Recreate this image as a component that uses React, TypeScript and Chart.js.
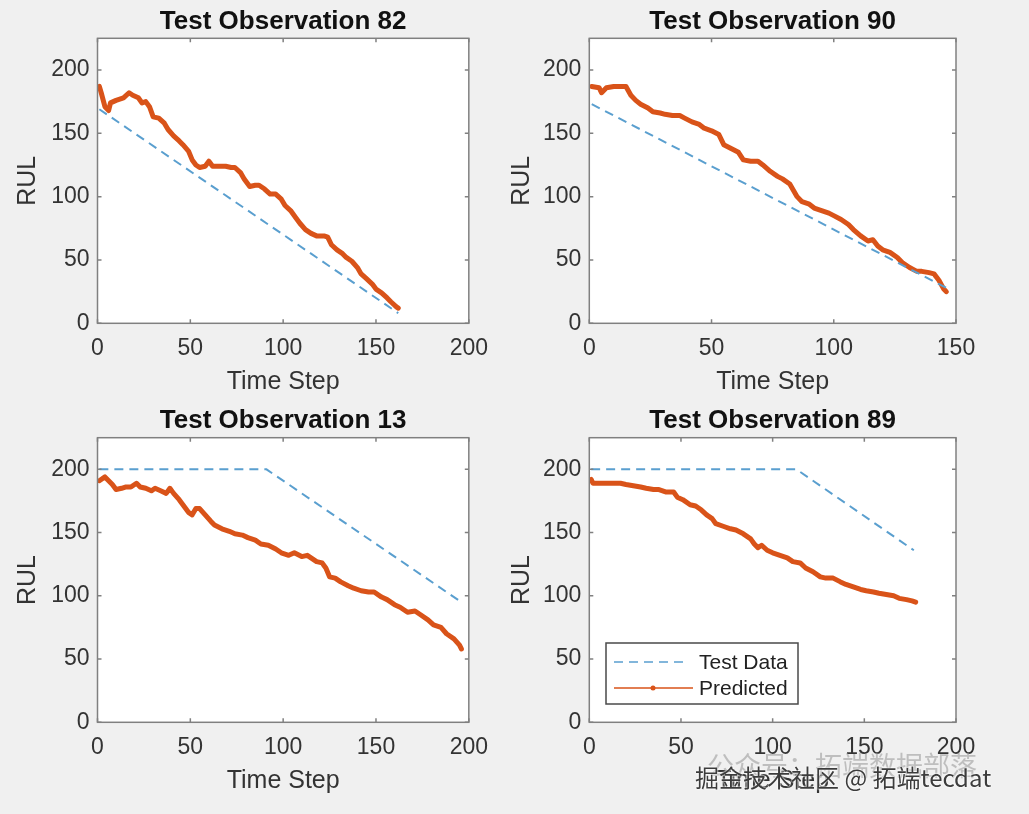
import React, { useEffect, useRef } from "react";
import { Chart, registerables } from "chart.js";

Chart.register(...registerables);

// ---------- data ----------
const Y_TICKS = [0, 50, 100, 150, 200];
const X_TICKS_200 = [0, 50, 100, 150, 200];
const X_TICKS_150 = [0, 50, 100, 150];
const Y_MAX = 225;

const TITLES = ["Test Observation 82", "Test Observation 90", "Test Observation 13", "Test Observation 89"];
const X_MAXES = [200, 150, 200, 200];
const SERIES_LABELS = ["Test Data", "Predicted"];

const OBS82_TEST: [number, number][] = [[1, 169], [162, 8]];
const OBS82_PREDICTED: [number, number][] = [
  [1, 187], [2, 182], [4, 171], [6, 168], [7, 174], [10, 176], [14, 178], [17, 182], [19, 180], [22, 178],
  [24, 174], [26, 175], [28, 171], [30, 163], [33, 162], [36, 158], [38, 153], [41, 148], [44, 144], [46, 141],
  [49, 136], [51, 129], [53, 125], [55, 123], [58, 124], [60, 128], [62, 124], [65, 124], [69, 124], [72, 123],
  [74, 123], [77, 119], [79, 114], [82, 108], [85, 109], [87, 109], [90, 106], [93, 102], [96, 102], [99, 98],
  [101, 93], [104, 89], [107, 83], [109, 79], [112, 74], [115, 71], [118, 69], [122, 69], [124, 68], [126, 62],
  [129, 58], [132, 55], [134, 52], [137, 49], [140, 44], [142, 39], [145, 35], [148, 31], [150, 27], [153, 24],
  [156, 20], [158, 17], [161, 13], [162, 12],
];

const OBS90_TEST: [number, number][] = [[1, 173], [146, 28]];
const OBS90_PREDICTED: [number, number][] = [
  [1, 187], [4, 186], [5, 182], [7, 186], [10, 187], [12, 187], [15, 187], [17, 180], [19, 176], [21, 173],
  [24, 170], [26, 167], [29, 166], [31, 165], [34, 164], [37, 164], [39, 162], [42, 159], [45, 157], [47, 154],
  [50, 152], [53, 149], [55, 141], [58, 138], [61, 135], [63, 129], [66, 128], [69, 128], [71, 125], [74, 120],
  [77, 116], [79, 114], [82, 110], [85, 100], [87, 96], [90, 94], [92, 91], [95, 89], [98, 87], [100, 85],
  [103, 82], [106, 78], [108, 74], [111, 69], [114, 65], [116, 66], [118, 61], [120, 58], [123, 56], [126, 52],
  [128, 48], [131, 44], [134, 41], [136, 41], [139, 40], [141, 39], [143, 34], [145, 27], [146, 25],
];

const OBS13_TEST: [number, number][] = [[1, 200], [91, 200], [196, 95]];
const OBS13_PREDICTED: [number, number][] = [
  [1, 191], [4, 194], [6, 191], [8, 188], [10, 184], [13, 185], [15, 186], [18, 186], [21, 189], [23, 186],
  [26, 185], [29, 183], [31, 185], [34, 183], [37, 181], [39, 185], [41, 181], [44, 176], [46, 172], [49, 166],
  [51, 164], [53, 169], [55, 169], [58, 164], [61, 159], [63, 156], [67, 153], [71, 151], [74, 149], [78, 148],
  [81, 146], [85, 144], [88, 141], [92, 140], [96, 137], [99, 134], [103, 132], [106, 134], [110, 131], [113, 132],
  [115, 130], [118, 127], [121, 126], [123, 122], [125, 115], [128, 114], [131, 111], [135, 108], [138, 106], [142, 104],
  [146, 103], [149, 103], [153, 99], [156, 97], [160, 93], [163, 91], [167, 87], [171, 88], [174, 85], [178, 81],
  [181, 77], [185, 75], [188, 70], [192, 66], [195, 61], [196, 58],
];

const OBS89_TEST: [number, number][] = [[1, 200], [113, 200], [177, 136]];
const OBS89_PREDICTED: [number, number][] = [
  [1, 192], [2, 189], [6, 189], [9, 189], [13, 189], [17, 189], [20, 188], [24, 187], [28, 186], [31, 185],
  [35, 184], [38, 184], [42, 182], [46, 182], [48, 178], [51, 176], [55, 172], [58, 171], [61, 168], [64, 164],
  [67, 161], [69, 157], [73, 155], [77, 153], [80, 152], [84, 149], [88, 145], [90, 141], [92, 138], [94, 140],
  [97, 136], [100, 134], [104, 132], [108, 130], [111, 127], [115, 126], [118, 122], [122, 119], [126, 115], [129, 114],
  [133, 114], [137, 111], [140, 109], [144, 107], [148, 105], [151, 104], [155, 103], [158, 102], [162, 101], [166, 100],
  [169, 98], [173, 97], [176, 96], [178, 95],
];

const TESTS = [OBS82_TEST, OBS90_TEST, OBS13_TEST, OBS89_TEST];
const PREDS = [OBS82_PREDICTED, OBS90_PREDICTED, OBS13_PREDICTED, OBS89_PREDICTED];
const X_TICK_SETS = [X_TICKS_200, X_TICKS_150, X_TICKS_200, X_TICKS_200];

// ---------- styling / layout ----------
const FONT = "'Liberation Sans', Arial, Helvetica, sans-serif";
const ORANGE = "#D95319";
const BLUE = "#5a9fcf";
const AXIS_COLOR = "#808080";
const TEXT_COLOR = "#333333";

type Geo = {
  cx: number; cy: number; w: number; h: number;
  plotLeft: number; plotRight: number; plotBottom: number;
  titleTop: number; titleBottom: number; xTitlePad: number; yTitlePad: number;
  legend?: { x: number; y: number; w: number; h: number };
};

const GEOS: Geo[] = [
  { cx: 0, cy: 0, w: 500, h: 400, plotLeft: 97.5, plotRight: 470, plotBottom: 323.3, titleTop: 6.5, titleBottom: 0.6, xTitlePad: 2.7, yTitlePad: 13.5 },
  { cx: 500, cy: 0, w: 529, h: 400, plotLeft: 589.3, plotRight: 956, plotBottom: 323.3, titleTop: 6.5, titleBottom: 0.6, xTitlePad: 2.7, yTitlePad: 7 },
  { cx: 0, cy: 400, w: 500, h: 414, plotLeft: 97.5, plotRight: 470, plotBottom: 722.3, titleTop: 5, titleBottom: 1.5, xTitlePad: 18.3, yTitlePad: 13.5 },
  { cx: 500, cy: 400, w: 529, h: 414, plotLeft: 589.3, plotRight: 956, plotBottom: 722.3, titleTop: 5, titleBottom: 1.5, xTitlePad: 18.3, yTitlePad: 7, legend: { x: 106, y: 243, w: 192, h: 61 } },
];

const boxPlugin = {
  id: "matlabBox",
  beforeDraw(chart: any) {
    const { ctx, chartArea: a } = chart;
    ctx.save();
    ctx.fillStyle = "#ffffff";
    ctx.fillRect(a.left, a.top, a.right - a.left, a.bottom - a.top);
    ctx.restore();
  },
  afterDraw(chart: any, _args: any, opts: any) {
    const { ctx, chartArea: a, scales } = chart;
    ctx.save();
    ctx.strokeStyle = AXIS_COLOR;
    ctx.lineWidth = 1.5;
    ctx.beginPath();
    const tl = 4;
    for (const t of scales.x.ticks) {
      const px = scales.x.getPixelForValue(t.value);
      ctx.moveTo(px, a.bottom); ctx.lineTo(px, a.bottom - tl);
      ctx.moveTo(px, a.top); ctx.lineTo(px, a.top + tl);
    }
    for (const t of scales.y.ticks) {
      const py = scales.y.getPixelForValue(t.value);
      ctx.moveTo(a.left, py); ctx.lineTo(a.left + tl, py);
      ctx.moveTo(a.right, py); ctx.lineTo(a.right - tl, py);
    }
    ctx.stroke();
    ctx.strokeRect(a.left, a.top, a.right - a.left, a.bottom - a.top);

    const lg = opts && opts.legend;
    if (lg) {
      ctx.fillStyle = "#ffffff";
      ctx.fillRect(lg.x, lg.y, lg.w, lg.h);
      ctx.strokeStyle = "#4a4a4a";
      ctx.lineWidth = 1.5;
      ctx.strokeRect(lg.x, lg.y, lg.w, lg.h);
      const rows = [lg.y + 19, lg.y + 45];
      chart.data.datasets.forEach((ds: any, i: number) => {
        const y = rows[i];
        ctx.save();
        ctx.strokeStyle = ds.borderColor;
        ctx.lineWidth = 1.5;
        ctx.setLineDash(ds.borderDash || []);
        ctx.beginPath();
        ctx.moveTo(lg.x + 8, y);
        ctx.lineTo(lg.x + (i === 0 ? 83 : 87), y);
        ctx.stroke();
        ctx.setLineDash([]);
        if (i === 1) {
          ctx.fillStyle = ds.borderColor;
          ctx.beginPath();
          ctx.arc(lg.x + 47, y, 2.5, 0, Math.PI * 2);
          ctx.fill();
        }
        ctx.fillStyle = "#222222";
        ctx.font = `21px ${FONT}`;
        ctx.textAlign = "left";
        ctx.textBaseline = "middle";
        ctx.fillText(ds.label, lg.x + 93, y + 1);
        ctx.restore();
      });
    }
    ctx.restore();
  },
};

function Panel({ idx }: { idx: number }) {
  const ref = useRef<HTMLCanvasElement | null>(null);
  const g = GEOS[idx];
  useEffect(() => {
    if (!ref.current) return;
    const xTicks = X_TICK_SETS[idx];
    const chart = new Chart(ref.current, {
      type: "line",
      data: {
        datasets: [
          {
            label: SERIES_LABELS[0],
            data: TESTS[idx].map(([x, y]) => ({ x, y })),
            borderColor: BLUE,
            borderWidth: 2,
            borderDash: [9, 6],
            pointRadius: 0,
            fill: false,
            tension: 0,
          },
          {
            label: SERIES_LABELS[1],
            data: PREDS[idx].map(([x, y]) => ({ x, y })),
            borderColor: ORANGE,
            borderWidth: 5,
            pointRadius: 0,
            fill: false,
            tension: 0,
            borderJoinStyle: "round",
            borderCapStyle: "round",
          },
        ],
      },
      options: {
        animation: false,
        responsive: false,
        maintainAspectRatio: false,
        events: [],
        layout: { padding: { left: 0, top: 0, bottom: 0, right: g.cx + g.w - g.plotRight } },
        plugins: {
          legend: { display: false },
          tooltip: { enabled: false },
          title: {
            display: true,
            fullSize: false,
            text: TITLES[idx],
            color: "#111111",
            font: { family: FONT, size: 26, weight: "bold" },
            padding: { top: g.titleTop, bottom: g.titleBottom },
          },
          matlabBox: { legend: g.legend || null },
        } as any,
        scales: {
          x: {
            type: "linear",
            min: 0,
            max: X_MAXES[idx],
            afterBuildTicks: (s: any) => { s.ticks = xTicks.map((v) => ({ value: v })); },
            afterFit: (s: any) => { s.height = g.cy + g.h - g.plotBottom; },
            grid: { display: false, drawTicks: false },
            border: { display: false },
            ticks: { color: TEXT_COLOR, font: { family: FONT, size: 23 }, padding: 12, maxRotation: 0, autoSkip: false },
            title: { display: true, text: "Time Step", color: TEXT_COLOR, font: { family: FONT, size: 25 }, padding: { top: 0, bottom: g.xTitlePad } },
          },
          y: {
            type: "linear",
            min: 0,
            max: Y_MAX,
            afterBuildTicks: (s: any) => { s.ticks = Y_TICKS.map((v) => ({ value: v })); },
            afterFit: (s: any) => { s.width = g.plotLeft - g.cx; },
            grid: { display: false, drawTicks: false },
            border: { display: false },
            ticks: { color: TEXT_COLOR, font: { family: FONT, size: 23 }, padding: 8, autoSkip: false },
            title: { display: true, text: "RUL", color: TEXT_COLOR, font: { family: FONT, size: 25 }, padding: { top: g.yTitlePad, bottom: 0 } },
          },
        },
      } as any,
      plugins: [boxPlugin as any],
    });
    return () => chart.destroy();
  }, [idx]);
  return (
    <canvas
      ref={ref}
      width={g.w}
      height={g.h}
      style={{ position: "absolute", left: g.cx, top: g.cy, width: g.w, height: g.h }}
    />
  );
}

export default function App() {
  return (
    <div style={{ position: "absolute", left: 0, top: 0, width: 1029, height: 814, background: "#f0f0f0", overflow: "hidden" }}>
      {[0, 1, 2, 3].map((i) => <Panel key={i} idx={i} />)}
      <div style={{ position: "absolute", left: 707, top: 749, fontFamily: "'Noto Sans CJK SC', sans-serif", fontSize: 27, color: "rgba(150,150,150,0.55)", whiteSpace: "nowrap", lineHeight: "32px" }}>
        公众号：拓端数据部落
      </div>
      <div style={{ position: "absolute", left: 695, top: 762, fontFamily: "'Noto Sans CJK SC', sans-serif", fontSize: 24, color: "#3c3c3c", whiteSpace: "nowrap", lineHeight: "30px", textShadow: "0 0 2px #fff, 0 0 2px #fff" }}>
        掘金技术社区 @ 拓端tecdat
      </div>
    </div>
  );
}
